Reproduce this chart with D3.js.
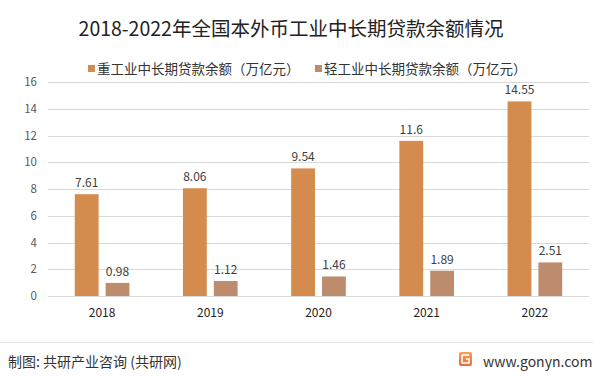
<!DOCTYPE html>
<html>
<head>
<meta charset="utf-8">
<script src="https://cdn.jsdelivr.net/npm/d3@7"></script>
<style>
  body { margin: 0; background: #fff; }
  svg { display: block; font-family: "Noto Sans CJK SC", "Noto Sans", sans-serif; }
</style>
</head>
<body>
<div id="chart"></div>
<script>
const years = ["2018", "2019", "2020", "2021", "2022"];
const heavy = [7.61, 8.06, 9.54, 11.6, 14.55];
const light = [0.98, 1.12, 1.46, 1.89, 2.51];
const seriesNames = ["重工业中长期贷款余额（万亿元）", "轻工业中长期贷款余额（万亿元）"];
const yTicks = [0, 2, 4, 6, 8, 10, 12, 14, 16];
const colors = ["#D38B4E", "#BC8C6C"];

const width = 600, height = 376;
const margin = { top: 82, right: 11, bottom: 80, left: 48 };

const svg = d3.select("#chart")
  .append("svg")
    .attr("width", width)
    .attr("height", height);

// title
svg.append("text")
    .attr("x", 291)
    .attr("y", 36)
    .attr("text-anchor", "middle")
    .attr("font-size", 19.5)
    .attr("fill", "#222")
    .text("2018-2022年全国本外币工业中长期贷款余额情况");

// legend
const legendX = [88, 315];
seriesNames.forEach((name, i) => {
  svg.append("rect")
      .attr("x", legendX[i])
      .attr("y", 65)
      .attr("width", 7)
      .attr("height", 7)
      .attr("fill", colors[i]);
  svg.append("text")
      .attr("x", legendX[i] + 9)
      .attr("y", 74)
      .attr("font-size", 13.5)
      .attr("fill", "#333")
      .text(name);
});

const x = d3.scaleBand()
    .domain(years)
    .range([margin.left, width - margin.right]);

const y = d3.scaleLinear()
    .domain([0, 16])
    .range([296, 82]);

// gridlines
svg.append("g")
  .selectAll("line")
  .data(yTicks)
  .join("line")
    .attr("x1", margin.left)
    .attr("x2", width - margin.right)
    .attr("y1", d => Math.round(y(d)) + 0.5)
    .attr("y2", d => Math.round(y(d)) + 0.5)
    .attr("stroke", "#d9d9d9")
    .attr("stroke-width", 1);

// y axis labels
const yAxis = svg.append("g")
    .attr("transform", `translate(${margin.left},0)`)
    .call(d3.axisLeft(y).tickValues(yTicks).tickSize(0).tickPadding(11));
yAxis.select(".domain").remove();
yAxis.selectAll("text")
    .attr("font-size", 11.5)
    .attr("fill", "#595959")
    .attr("font-family", "Noto Sans CJK SC, sans-serif");

// x axis labels
const xAxis = svg.append("g")
    .attr("transform", "translate(0,296)")
    .call(d3.axisBottom(x).tickSize(0).tickPadding(12));
xAxis.select(".domain").remove();
xAxis.selectAll("text")
    .attr("font-size", 12)
    .attr("fill", "#222")
    .attr("font-family", "Noto Sans CJK SC, sans-serif");

// bars
const barW = x.bandwidth() * 0.22;
const gap = x.bandwidth() * 0.065;
const series = [heavy, light];

series.forEach((vals, s) => {
  const offset = s === 0 ? -gap / 2 - barW : gap / 2;
  svg.append("g")
    .selectAll("rect")
    .data(vals)
    .join("rect")
      .attr("x", (d, i) => x(years[i]) + x.bandwidth() / 2 + offset)
      .attr("y", d => y(d))
      .attr("width", barW)
      .attr("height", d => y(0) - y(d))
      .attr("fill", colors[s]);

  svg.append("g")
    .selectAll("text")
    .data(vals)
    .join("text")
      .attr("x", (d, i) => x(years[i]) + x.bandwidth() / 2 + offset + barW / 2)
      .attr("y", d => y(d) - 7)
      .attr("text-anchor", "middle")
      .attr("font-size", 12)
      .attr("fill", "#404040")
      .text(d => d);
});

// footer
svg.append("line")
    .attr("x1", 0)
    .attr("x2", 593)
    .attr("y1", 342.5)
    .attr("y2", 342.5)
    .attr("stroke", "#e3e3e3");

svg.append("text")
    .attr("x", 8)
    .attr("y", 367)
    .attr("font-size", 14)
    .attr("fill", "#333")
    .text("制图: 共研产业咨询 (共研网)");

const defs = svg.append("defs");
const grad = defs.append("linearGradient")
    .attr("id", "logoGrad")
    .attr("x1", 0).attr("y1", 0).attr("x2", 0).attr("y2", 1);
grad.append("stop").attr("offset", "0%").attr("stop-color", "#F5A35A");
grad.append("stop").attr("offset", "100%").attr("stop-color", "#EE6A3A");

svg.append("rect")
    .attr("x", 459)
    .attr("y", 352)
    .attr("width", 13)
    .attr("height", 14)
    .attr("rx", 2)
    .attr("fill", "url(#logoGrad)");
svg.append("path")
    .attr("d", "M462,355 h7 M462,355 v8 h7 v-4 h-3")
    .attr("fill", "none")
    .attr("stroke", "#fff")
    .attr("stroke-width", 1.6);

svg.append("text")
    .attr("x", 483)
    .attr("y", 367)
    .attr("font-size", 14)
    .attr("fill", "#333")
    .text("www.gonyn.com");
</script>
</body>
</html>
